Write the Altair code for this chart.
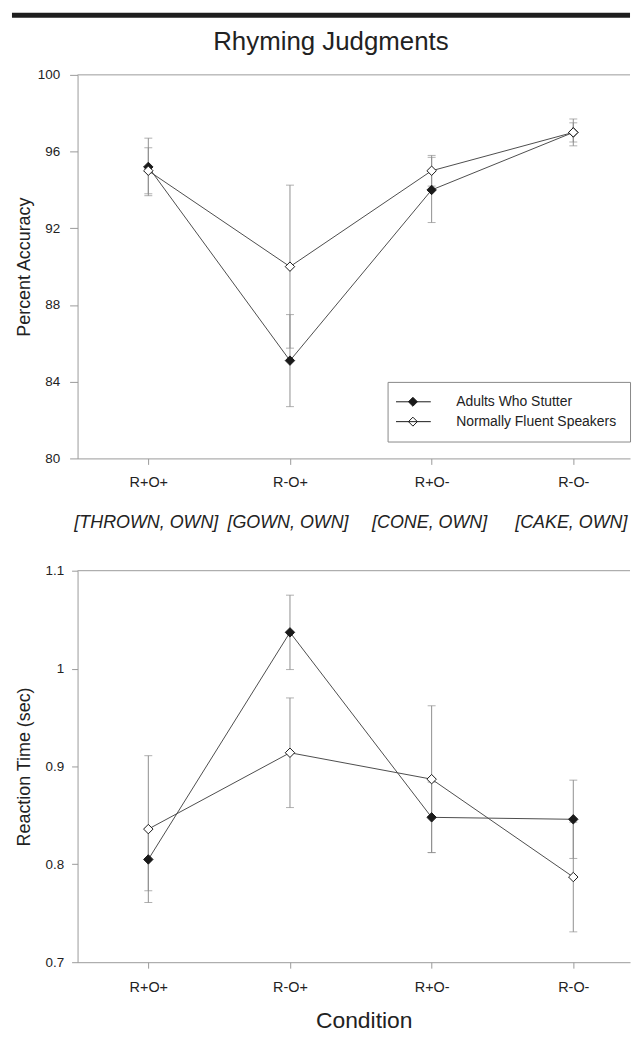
import altair as alt
import pandas as pd

# ---------------- data ----------------
conditions = ["R+O+", "R-O+", "R+O-", "R-O-"]
word_pairs = ["[THROWN, OWN]", "[GOWN, OWN]", "[CONE, OWN]", "[CAKE, OWN]"]
groups = ["Adults Who Stutter", "Normally Fluent Speakers"]
chart_title = ["Rhyming Judgments"]

acc_aws = [95.2, 85.1, 94.0, 97.0]
acc_aws_err = [1.5, 2.4, 1.7, 0.7]
acc_nfs = [95.0, 90.0, 95.0, 97.0]
acc_nfs_err = [1.2, 4.25, 0.8, 0.5]

rt_aws = [0.805, 1.037, 0.848, 0.846]
rt_aws_err = [0.032, 0.038, 0.036, 0.040]
rt_nfs = [0.836, 0.914, 0.887, 0.787]
rt_nfs_err = [0.075, 0.056, 0.075, 0.056]

acc_ticks = [80, 84, 88, 92, 96, 100]
rt_ticks = [0.7, 0.8, 0.9, 1.0, 1.1]


def frame(aws, aws_err, nfs, nfs_err):
    rows = []
    for g, vals, errs in [(groups[0], aws, aws_err), (groups[1], nfs, nfs_err)]:
        for c, v, e in zip(conditions, vals, errs):
            rows.append({"condition": c, "group": g, "value": v,
                         "lo": v - e, "hi": v + e})
    return pd.DataFrame(rows)


acc_df = frame(acc_aws, acc_aws_err, acc_nfs, acc_nfs_err)
rt_df = frame(rt_aws, rt_aws_err, rt_nfs, rt_nfs_err)
pairs_df = pd.DataFrame({"condition": conditions, "pair": word_pairs})
title_df = pd.DataFrame({"t": chart_title})

# ---------------- style ----------------
FONT = "Liberation Sans"
W = 556
TEXT = "#222222"
AXIS = "#9a9a9a"
LINE = "#4d4d4d"
ERR = "#8f8f8f"

x_scale = alt.Scale(type="point", domain=conditions, padding=0.45, align=0.555)


def x_enc(axis):
    return alt.X("condition:N", scale=x_scale, axis=axis)


def panel(df, y_domain, y_ticks, y_title, y_axis_kw, x_axis, legend, fmt=None):
    y_scale = alt.Scale(domain=y_domain, nice=False, zero=False)
    ax_kw = dict(title=y_title, values=y_ticks, grid=False, domainColor=AXIS,
                 tickColor=AXIS, labelFont=FONT, labelColor=TEXT, titleFont=FONT,
                 titleFontSize=18, titleFontWeight="normal", titleColor=TEXT,
                 labelFontSize=13.5)
    ax_kw.update(y_axis_kw)
    if fmt:
        ax_kw["format"] = fmt
    y_axis = alt.Axis(**ax_kw)

    def y(field):
        return alt.Y(f"{field}:Q", scale=y_scale, axis=y_axis)

    base = alt.Chart(df)
    err = base.mark_rule(color=ERR, strokeWidth=1).encode(
        x=x_enc(x_axis), y=y("lo"), y2="hi")
    cap_lo = base.mark_tick(color=ERR, size=8, thickness=1, orient="horizontal").encode(
        x=x_enc(x_axis), y=y("lo"))
    cap_hi = base.mark_tick(color=ERR, size=8, thickness=1, orient="horizontal").encode(
        x=x_enc(x_axis), y=y("hi"))
    line = base.mark_line(color=LINE, strokeWidth=1).encode(
        x=x_enc(x_axis), y=y("value"), detail="group:N")
    pts = base.mark_point(shape="diamond", filled=True, size=90, stroke="#1a1a1a",
                          strokeWidth=1, opacity=1).encode(
        x=x_enc(x_axis), y=y("value"),
        fill=alt.Fill("group:N", scale=alt.Scale(domain=groups, range=["#1a1a1a", "white"]),
                      legend=legend))
    top_df = pd.DataFrame({"v": [y_domain[1]]})
    top_rule = alt.Chart(top_df).mark_rule(color=AXIS, strokeWidth=1).encode(
        y=y("v"), x=alt.value(0), x2=alt.value(W))
    return [top_rule, err, cap_lo, cap_hi, line, pts]


legend = alt.Legend(
    title=None, orient="none", legendX=312, legendY=309,
    symbolType="M-2.3,0L4.7,0M1.1,-0.9L2.0,0L1.1,0.9L0.2,0Z",
    symbolSize=100, symbolStrokeColor="#1a1a1a", symbolStrokeWidth=1,
    labelFont=FONT, labelFontSize=14, labelColor=TEXT, labelOffset=42,
    labelLimit=400, rowPadding=6, padding=13, strokeColor="#888888",
    fillColor="white",
)

top_x_axis = alt.Axis(title=None, domainColor=AXIS, tickColor=AXIS, tickSize=6,
                      labelFont=FONT, labelFontSize=14.5, labelColor=TEXT,
                      labelPadding=11, labelAngle=0, grid=False)

top_layers = panel(acc_df, [80, 100], acc_ticks, "Percent Accuracy",
                   dict(tickSize=8, labelPadding=10, titlePadding=4),
                   top_x_axis, legend)

bar = alt.Chart(title_df).mark_rule(color="#1e1e1e", strokeWidth=5).encode(
    x=alt.value(-66), x2=alt.value(W), y=alt.value(-60))
title_txt = alt.Chart(title_df).mark_text(
    font=FONT, fontSize=26, color=TEXT, align="center", baseline="alphabetic").encode(
    text="t:N", x=alt.value(255), y=alt.value(-25))
pairs_txt = alt.Chart(pairs_df).mark_text(
    font=FONT, fontSize=18, fontStyle="italic", color=TEXT, align="center",
    baseline="middle", dx=-2).encode(
    x=x_enc(top_x_axis), text="pair:N", y=alt.value(451))

top = alt.layer(bar, title_txt, *top_layers, pairs_txt).properties(width=W, height=386)

bot_x_axis = alt.Axis(title="Condition", domainColor=AXIS, tickColor=AXIS, tickSize=6,
                      labelFont=FONT, labelFontSize=14.5, labelColor=TEXT,
                      labelPadding=12, labelAngle=0, grid=False, titleFont=FONT,
                      titleFontSize=23, titleFontWeight="normal", titleColor=TEXT,
                      titlePadding=16, titleX=288)

bot_layers = panel(rt_df, [0.7, 1.1], rt_ticks, "Reaction Time (sec)",
                   dict(tickSize=6, labelPadding=8, titlePadding=12),
                   bot_x_axis, None, fmt="~g")
bottom = alt.layer(*bot_layers).properties(width=W, height=394)

chart = (
    alt.vconcat(top, bottom, spacing=32)
    .resolve_scale(fill="independent", y="independent", x="independent")
    .resolve_legend(fill="independent")
    .properties(padding={"left": 1, "top": 1, "right": 0, "bottom": 4},
                background="white")
    .configure_view(stroke=None)
)

chart.save("out.html", embed_options={"renderer": "svg", "actions": False})
